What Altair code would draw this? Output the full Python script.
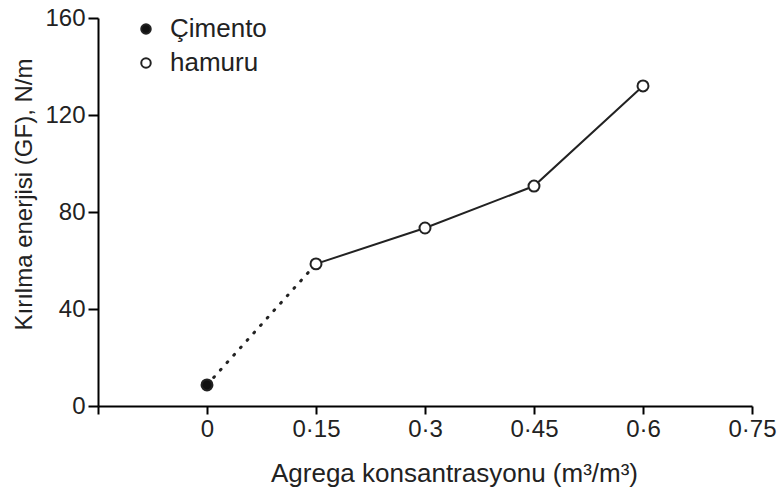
import altair as alt
import pandas as pd

conc = [0, 0.15, 0.3, 0.45, 0.6]
energy = [8.7, 58.6, 73.4, 90.7, 132]
series = ["Çimento", "hamuru", "hamuru", "hamuru", "hamuru"]
x_ticks = [-0.15, 0, 0.15, 0.3, 0.45, 0.6, 0.75]
y_ticks = [0, 40, 80, 120, 160]

df = pd.DataFrame({"x": conc, "y": energy, "s": series})

FONT = "Liberation Sans"

xs = alt.Scale(domain=[-0.15, 0.75], nice=False, zero=False)
ys = alt.Scale(domain=[0, 160], nice=False)

X = alt.X("x:Q", scale=xs, axis=alt.Axis(
    values=x_ticks, title="Agrega konsantrasyonu (m³/m³)",
    labelExpr="datum.value < 0 ? '' : replace(format(datum.value, '~g'), '.', '·')",
    labelPadding=3, labelFlush=False, tickSize=8,
    titleX=356, titleY=75, titleBaseline="alphabetic",
    titleAlign="center", titleFontSize=26))
Y = alt.Y("y:Q", scale=ys, axis=alt.Axis(
    values=y_ticks, title="Kırılma enerjisi (GF), N/m",
    labelPadding=3, labelFlush=False, tickSize=10,
    titleX=-67, titleY=176, titleBaseline="alphabetic",
    titleAlign="center", titleAngle=270, titleFontSize=24))

base = alt.Chart(df)

dotted = base.transform_filter("datum.x <= 0.15").mark_line(
    color="#222", strokeWidth=3, strokeDash=[1, 9], strokeCap="round"
).encode(x=X, y=Y)

solid = base.transform_filter("datum.x >= 0.15").mark_line(
    color="#222", strokeWidth=2
).encode(x=X, y=Y)

pts = base.mark_point(size=120, strokeWidth=2, stroke="#222", opacity=1, filled=False).encode(
    x=X, y=Y,
    fill=alt.Fill("s:N", scale=alt.Scale(domain=["Çimento", "hamuru"], range=["#111", "white"]),
                  legend=alt.Legend(title=None, orient="none", legendX=35, legendY=-2,
                                    labelFontSize=26, labelFont=FONT, labelColor="#222",
                                    symbolSize=90, symbolStrokeColor="#222", symbolStrokeWidth=2,
                                    labelOffset=11, rowPadding=8, symbolType="circle")),
)

chart = alt.layer(dotted, solid, pts).properties(
    width=654, height=388,
    autosize=alt.AutoSizeParams(type="none"),
    padding={"left": 98, "top": 18, "right": 26, "bottom": 82},
    background="white",
).configure_view(stroke=None).configure_axis(
    grid=False, domainColor="black", domainWidth=2, tickColor="black",
    tickWidth=2, labelFontSize=24,
    labelColor="#222", titleColor="#222", labelFont=FONT, titleFont=FONT,
    titleFontWeight="normal"
)

chart.save("out.html", embed_options={"renderer": "svg", "actions": False})
